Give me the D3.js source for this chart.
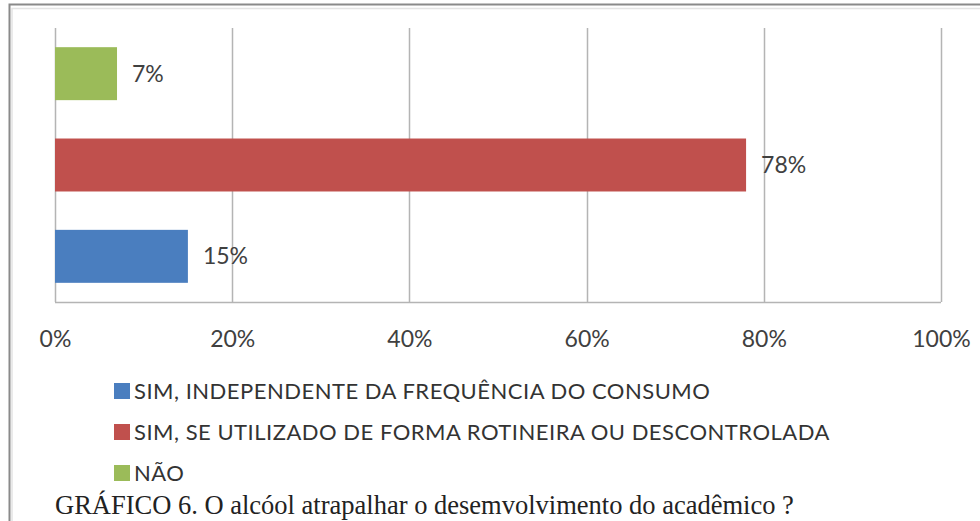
<!DOCTYPE html>
<html>
<head>
<meta charset="utf-8">
<script src="https://cdn.jsdelivr.net/npm/d3@7"></script>
<style>
    body { margin: 0; background: #fff; }
    svg { display: block; }
</style>
</head>
<body>
<div id="chart"></div>
<script>
// data
const categories = [
    "SIM, INDEPENDENTE DA FREQUÊNCIA DO CONSUMO",
    "SIM, SE UTILIZADO DE FORMA ROTINEIRA OU DESCONTROLADA",
    "NÃO"
];
const values = [15, 78, 7];
const colors = ["#4a7ebf", "#c0504d", "#9bbb59"];
const tickValues = [0, 20, 40, 60, 80, 100];
const caption = "GRÁFICO 6. O alcóol atrapalhar o desemvolvimento do acadêmico ?";

const width = 980;
const height = 521;
const margin = { top: 28, left: 55, right: 39, bottom: 219 };
const innerWidth = width - margin.left - margin.right;
const innerHeight = height - margin.top - margin.bottom;

const labelFont = "Lato, 'Open Sans', sans-serif";

const svg = d3.select("#chart")
    .append("svg")
        .attr("width", width)
        .attr("height", height);

// outer frame, only left and top edges are inside the picture
svg.append("path")
    .attr("d", `M9.5,${height} V4.5 H${width}`)
    .attr("fill", "none")
    .attr("stroke", "#8a8a8a")
    .attr("stroke-width", 2);

svg.append("path")
    .attr("d", `M12,${height} V8.5 H${width}`)
    .attr("fill", "none")
    .attr("stroke", "#e4e4e4")
    .attr("stroke-width", 1.5);

const innerChart = svg.append("g")
    .attr("transform", `translate(${margin.left}, ${margin.top})`);

const xScale = d3.scaleLinear()
    .domain([0, 100])
    .range([0, innerWidth]);

// first category sits at the bottom
const yScale = d3.scaleBand()
    .domain(categories)
    .range([innerHeight, 0])
    .paddingInner(0.42)
    .paddingOuter(0.21);

// vertical gridlines
innerChart.selectAll(".grid")
    .data(tickValues)
    .join("line")
        .attr("class", "grid")
        .attr("x1", d => Math.round(xScale(d)) + 0.5)
        .attr("x2", d => Math.round(xScale(d)) + 0.5)
        .attr("y1", 0)
        .attr("y2", innerHeight)
        .attr("stroke", "#b4b4b4")
        .attr("stroke-width", 1.5);

// bottom axis line
innerChart.append("line")
    .attr("x1", 0)
    .attr("x2", innerWidth)
    .attr("y1", innerHeight + 0.5)
    .attr("y2", innerHeight + 0.5)
    .attr("stroke", "#b4b4b4")
    .attr("stroke-width", 1.5);

// tick labels
const bottomAxis = d3.axisBottom(xScale)
    .tickValues(tickValues)
    .tickSize(0)
    .tickPadding(29)
    .tickFormat(d => `${d}%`);

innerChart.append("g")
    .attr("transform", `translate(0, ${innerHeight})`)
    .call(bottomAxis)
    .call(g => g.select(".domain").remove())
    .attr("font-family", labelFont) // set after the axis call, it writes its own defaults
    .attr("font-size", 23)
    .selectAll("text")
        .attr("fill", "#404040");

// bars
innerChart.selectAll(".bar")
    .data(categories)
    .join("rect")
        .attr("class", "bar")
        .attr("x", 0)
        .attr("y", d => yScale(d))
        .attr("width", (d, i) => xScale(values[i]))
        .attr("height", yScale.bandwidth())
        .attr("fill", (d, i) => colors[i]);

// value labels
innerChart.selectAll(".value")
    .data(categories)
    .join("text")
        .attr("class", "value")
        .attr("x", (d, i) => xScale(values[i]) + 15)
        .attr("y", d => yScale(d) + yScale.bandwidth() / 2)
        .attr("dy", "0.35em")
        .attr("font-family", labelFont)
        .attr("font-size", 23)
        .attr("fill", "#404040")
        .text((d, i) => `${values[i]}%`);

// legend
const legend = svg.append("g")
    .attr("transform", "translate(114, 391)");

const legendItems = legend.selectAll(".legend-item")
    .data(categories)
    .join("g")
        .attr("class", "legend-item")
        .attr("transform", (d, i) => `translate(0, ${i * 41})`);

legendItems.append("rect")
    .attr("x", 0)
    .attr("y", -8)
    .attr("width", 16)
    .attr("height", 16)
    .attr("fill", (d, i) => colors[i]);

legendItems.append("text")
    .attr("x", 20)
    .attr("y", 0)
    .attr("dy", "0.35em")
    .attr("font-family", labelFont)
    .attr("font-size", 22)
    .attr("letter-spacing", 0.5)
    .attr("fill", "#333")
    .text(d => d);

// caption under the chart
svg.append("text")
    .attr("x", 55)
    .attr("y", 514)
    .attr("font-family", "'Liberation Serif', 'Times New Roman', serif")
    .attr("font-size", 26.5)
    .attr("fill", "#222")
    .text(caption);
</script>
</body>
</html>
